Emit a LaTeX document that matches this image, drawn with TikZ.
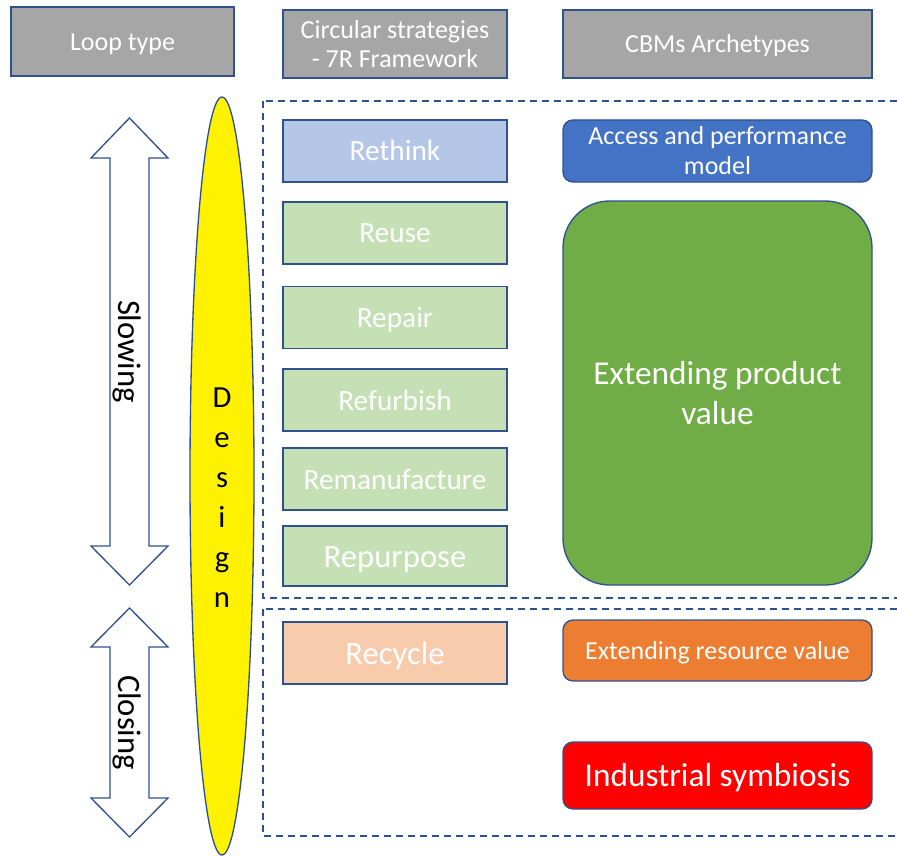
\documentclass[tikz,border=0pt]{standalone}
\usepackage{fontspec}
\setmainfont{Carlito}
\usepackage{xcolor}
\usepackage{tikz}
\usetikzlibrary{shapes.geometric}

\definecolor{edgeblue}{HTML}{2F528F}
\definecolor{hdrgray}{HTML}{A6A6A6}
\definecolor{thinkblue}{HTML}{B4C7E7}
\definecolor{lightgreen}{HTML}{C5E0B4}
\definecolor{peach}{HTML}{F8CBAD}
\definecolor{accessblue}{HTML}{4472C4}
\definecolor{prodgreen}{HTML}{70AD47}
\definecolor{resorange}{HTML}{ED7D31}
\definecolor{symred}{HTML}{FF0000}

\begin{document}
\begin{tikzpicture}[x=0.75pt,y=-0.75pt,
    box/.style={draw=edgeblue,line width=1pt,text=white,align=center,inner sep=0pt},
    oneline/.style args={#1/#2}{text height=#1,text depth=#2},
    hdr/.style={box,fill=hdrgray,minimum height=51pt,font=\fontsize{19.5}{21.75}\selectfont},
    rbox/.style={box,oneline=17.6pt/2.6pt,minimum width=168pt,minimum height=46.5pt,font=\fontsize{22}{26}\selectfont},
    bigr/.style={oneline=19.6pt/2.9pt,font=\fontsize{24.5}{28}\selectfont},
    cbm/.style={box,rounded corners=7.5pt,minimum width=231.75pt},
    looptxt/.style={oneline=19.6pt/2.9pt,rotate=-90,font=\fontsize{24.5}{28}\selectfont}]
    \clip (0,0) rectangle (897,856);

    % header row
    \node[hdr,oneline=15.6pt/2.3pt,minimum width=167.25pt,minimum height=51.75pt] (loop) at (122.5,41.5) {Loop type};
    \node[hdr,minimum width=168pt] (strat) at (395,44) {Circular strategies\\- 7R Framework};
    \node[hdr,oneline=15.6pt/2.3pt,minimum width=231.75pt] (cbms) at (717.5,44) {CBMs Archetypes};

    % dashed groups
    \draw[edgeblue,line width=1pt,dash pattern=on 5.5pt off 3.5pt] (263,101) rectangle (905,598);
    \draw[edgeblue,line width=1pt,dash pattern=on 5.5pt off 3.5pt] (263,609) rectangle (905,836);

    % loop arrows
    \draw[edgeblue,line width=1pt,fill=white] (129.5,118) -- (168,158) -- (149,158) -- (149,546)
        -- (168,546) -- (129.5,585) -- (91,546) -- (110,546) -- (110,158) -- (91,158) -- cycle;
    \node[looptxt] (slowing) at (129.5,351.5) {Slowing};
    \draw[edgeblue,line width=1pt,fill=white] (129.5,608) -- (168,647) -- (149,647) -- (149,798)
        -- (168,798) -- (129.5,837) -- (91,798) -- (110,798) -- (110,647) -- (91,647) -- cycle;
    \node[looptxt] (closing) at (129.5,722.5) {Closing};

    % design
    \node[ellipse,draw=edgeblue,fill=yellow,line width=1pt,minimum width=48pt,minimum height=568.5pt,inner sep=0pt] (design) at (222,476) {};
    \node[align=center,font=\fontsize{23}{30}\selectfont] (designtxt) at (222,498) {D\\e\\s\\i\\g\\n};

    % 7R strategies
    \node[rbox,fill=thinkblue] (rethink) at (395,151) {Rethink};
    \node[rbox,fill=lightgreen] (reuse) at (395,233) {Reuse};
    \node[rbox,fill=lightgreen] (repair) at (395,317.5) {Repair};
    \node[rbox,fill=lightgreen] (refurbish) at (395,400) {Refurbish};
    \node[rbox,fill=lightgreen] (reman) at (395,479) {Remanufacture};
    \node[rbox,bigr,fill=lightgreen,minimum height=45pt] (repurpose) at (395,556) {Repurpose};
    \node[rbox,bigr,fill=peach] (recycle) at (395,653) {Recycle};

    % CBM archetypes
    \node[cbm,fill=accessblue,minimum height=46.5pt,font=\fontsize{19.5}{22.5}\selectfont] (access) at (717.5,151) {Access and performance\\model};
    \node[cbm,fill=prodgreen,rounded corners=35pt,minimum height=288pt,font=\fontsize{25}{30}\selectfont] (extprod) at (717.5,393) {Extending product\\value};
    \node[cbm,oneline=15.6pt/2.3pt,fill=resorange,minimum height=45.75pt,font=\fontsize{19.5}{22}\selectfont] (extres) at (717.5,650.5) {Extending resource value};
    \node[cbm,oneline=20pt/3pt,fill=symred,minimum height=50.25pt,font=\fontsize{25}{30}\selectfont] (indsym) at (717.5,775.5) {Industrial symbiosis};
\end{tikzpicture}
\end{document}
